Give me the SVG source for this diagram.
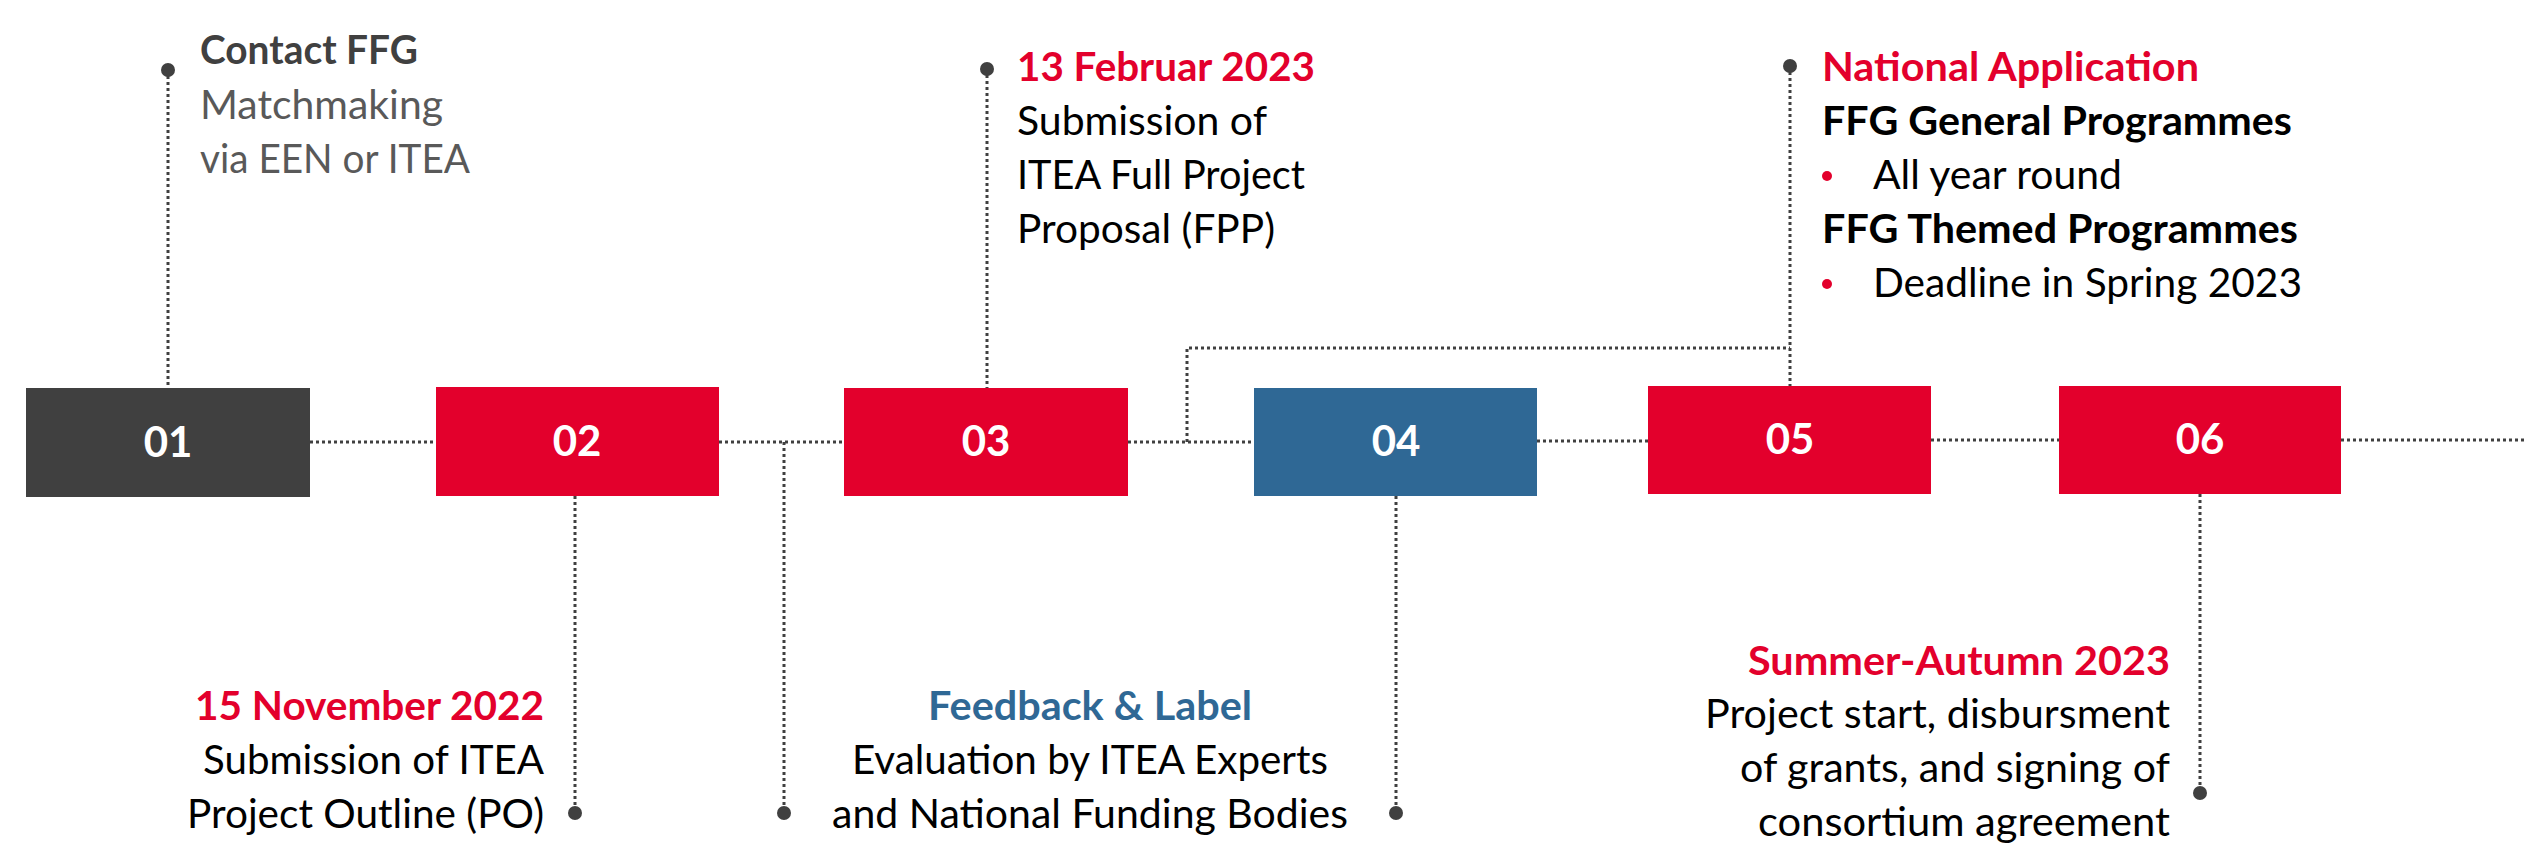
<svg xmlns="http://www.w3.org/2000/svg" width="2524" height="849" viewBox="0 0 2524 849">
<style>
  text { font-family: Lato, "Open Sans", "Liberation Sans", sans-serif; font-size: 41px; }
  .b { font-weight: 700; }
  .red { fill: #E3002C; }
  .blue { fill: #2F6895; }
  .dark { fill: #404040; }
  .grey { fill: #595959; }
  .blk { fill: #000000; }
  .lbl { fill: #FFFFFF; font-weight: 700; text-anchor: middle; font-size: 42px; }
  .dot { stroke: #404040; stroke-width: 3; stroke-dasharray: 3 3; fill: none; }
  .end { fill: #404040; }
</style>
<rect width="2524" height="849" fill="#FFFFFF"/>
<g id="connectors">
  <line class="dot" x1="310" y1="442" x2="436" y2="442"/>
  <line class="dot" x1="719" y1="442" x2="844" y2="442"/>
  <line class="dot" x1="1128" y1="442" x2="1254" y2="442"/>
  <line class="dot" x1="1537" y1="441" x2="1648" y2="441"/>
  <line class="dot" x1="1931" y1="440" x2="2059" y2="440"/>
  <line class="dot" x1="2341" y1="440" x2="2524" y2="440"/>
  <line class="dot" x1="168" y1="70" x2="168" y2="388"/>
  <circle class="end" cx="168" cy="70" r="7"/>
  <line class="dot" x1="987" y1="69" x2="987" y2="388"/>
  <circle class="end" cx="987" cy="69" r="7"/>
  <path class="dot" d="M1187 442 V348 H1790"/>
  <line class="dot" x1="1790" y1="66" x2="1790" y2="386"/>
  <circle class="end" cx="1790" cy="66" r="7"/>
  <line class="dot" x1="575" y1="496" x2="575" y2="813"/>
  <circle class="end" cx="575" cy="813" r="7"/>
  <line class="dot" x1="784" y1="442" x2="784" y2="813"/>
  <circle class="end" cx="784" cy="813" r="7"/>
  <line class="dot" x1="1396" y1="496" x2="1396" y2="813"/>
  <circle class="end" cx="1396" cy="813" r="7"/>
  <line class="dot" x1="2200" y1="494" x2="2200" y2="793"/>
  <circle class="end" cx="2200" cy="793" r="7"/>
</g>
<g id="step01">
  <rect x="26" y="388" width="284" height="109" fill="#404040"/>
  <text class="lbl" x="168" y="457">01</text>
  <text class="b dark" x="200" y="64" textLength="218" lengthAdjust="spacingAndGlyphs">Contact FFG</text>
  <text class="grey" x="200" y="119" textLength="243" lengthAdjust="spacingAndGlyphs">Matchmaking</text>
  <text class="grey" x="200" y="173" textLength="270" lengthAdjust="spacingAndGlyphs">via EEN or ITEA</text>
</g>
<g id="step02">
  <rect x="436" y="387" width="283" height="109" fill="#E3002C"/>
  <text class="lbl" x="577" y="456">02</text>
  <text class="b red" x="544" y="720" text-anchor="end" textLength="349" lengthAdjust="spacingAndGlyphs">15 November 2022</text>
  <text class="blk" x="544" y="774" text-anchor="end" textLength="341" lengthAdjust="spacingAndGlyphs">Submission of ITEA</text>
  <text class="blk" x="544" y="828" text-anchor="end" textLength="357" lengthAdjust="spacingAndGlyphs">Project Outline (PO)</text>
</g>
<g id="step03">
  <rect x="844" y="388" width="284" height="108" fill="#E3002C"/>
  <text class="lbl" x="986" y="456">03</text>
  <text class="b red" x="1017" y="81" textLength="298" lengthAdjust="spacingAndGlyphs">13 Februar 2023</text>
  <text class="blk" x="1017" y="135" textLength="250" lengthAdjust="spacingAndGlyphs">Submission of</text>
  <text class="blk" x="1017" y="189" textLength="288" lengthAdjust="spacingAndGlyphs">ITEA Full Project</text>
  <text class="blk" x="1017" y="243" textLength="258" lengthAdjust="spacingAndGlyphs">Proposal (FPP)</text>
</g>
<g id="step04">
  <rect x="1254" y="388" width="283" height="108" fill="#2F6895"/>
  <text class="lbl" x="1396" y="456">04</text>
  <text class="b blue" x="1090" y="720" text-anchor="middle" textLength="324" lengthAdjust="spacingAndGlyphs">Feedback &amp; Label</text>
  <text class="blk" x="1090" y="774" text-anchor="middle" textLength="476" lengthAdjust="spacingAndGlyphs">Evaluation by ITEA Experts</text>
  <text class="blk" x="1090" y="828" text-anchor="middle" textLength="516" lengthAdjust="spacingAndGlyphs">and National Funding Bodies</text>
</g>
<g id="step05">
  <rect x="1648" y="386" width="283" height="108" fill="#E3002C"/>
  <text class="lbl" x="1790" y="454">05</text>
  <text class="b red" x="1822" y="81" textLength="377" lengthAdjust="spacingAndGlyphs">National Application</text>
  <text class="b blk" x="1822" y="135" textLength="470" lengthAdjust="spacingAndGlyphs">FFG General Programmes</text>
  <circle cx="1827" cy="176" r="5" fill="#E3002C"/>
  <text class="blk" x="1873" y="189" textLength="249" lengthAdjust="spacingAndGlyphs">All year round</text>
  <text class="b blk" x="1822" y="243" textLength="476" lengthAdjust="spacingAndGlyphs">FFG Themed Programmes</text>
  <circle cx="1827" cy="284" r="5" fill="#E3002C"/>
  <text class="blk" x="1873" y="297" textLength="429" lengthAdjust="spacingAndGlyphs">Deadline in Spring 2023</text>
</g>
<g id="step06">
  <rect x="2059" y="386" width="282" height="108" fill="#E3002C"/>
  <text class="lbl" x="2200" y="454">06</text>
  <text class="b red" x="2170" y="675" text-anchor="end" textLength="422" lengthAdjust="spacingAndGlyphs">Summer-Autumn 2023</text>
  <text class="blk" x="2170" y="728" text-anchor="end" textLength="465" lengthAdjust="spacingAndGlyphs">Project start, disbursment</text>
  <text class="blk" x="2170" y="782" text-anchor="end" textLength="430" lengthAdjust="spacingAndGlyphs">of grants, and signing of</text>
  <text class="blk" x="2170" y="836" text-anchor="end" textLength="412" lengthAdjust="spacingAndGlyphs">consortium agreement</text>
</g>
</svg>
